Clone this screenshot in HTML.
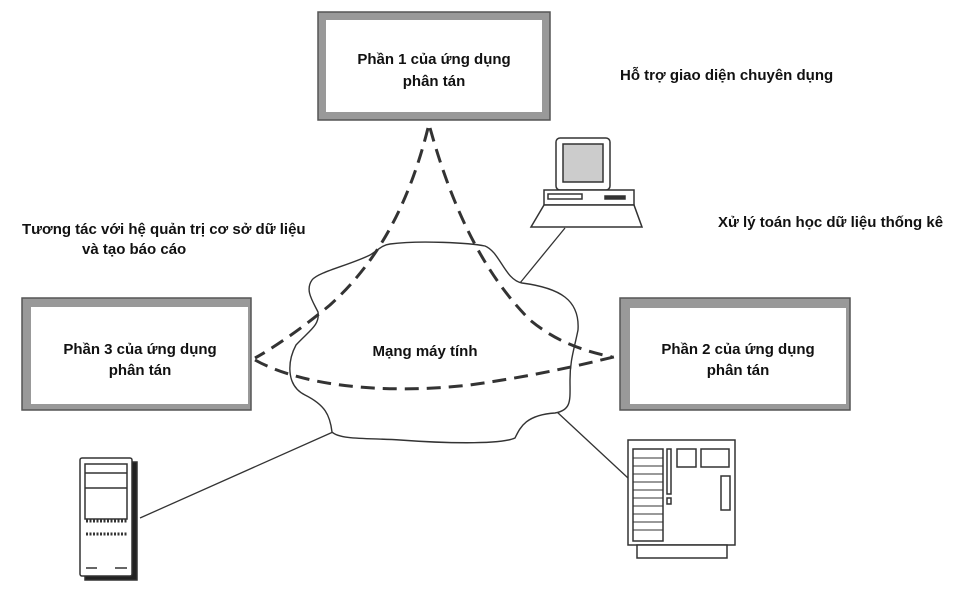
<!DOCTYPE html>
<html><head><meta charset="utf-8"><style>
body{margin:0;background:#fff;}
svg text{font-family:"Liberation Sans",sans-serif;font-weight:bold;font-size:15px;fill:#111;}
</style></head><body>
<svg width="967" height="600" viewBox="0 0 967 600" xmlns="http://www.w3.org/2000/svg">
<rect x="0" y="0" width="967" height="600" fill="#fff"/>
<g fill="#fff" stroke="#555" stroke-width="1.5">
<rect x="318" y="12" width="232" height="108" fill="#999"/>
<rect x="326" y="20" width="216" height="92" fill="#fff" stroke="none"/>
<rect x="22" y="298" width="229" height="112" fill="#999"/>
<rect x="31" y="307" width="217" height="97" fill="#fff" stroke="none"/>
<rect x="620" y="298" width="230" height="112" fill="#999"/>
<rect x="630" y="308" width="216" height="96" fill="#fff" stroke="none"/>
</g>
<text x="434" y="64" text-anchor="middle">Phần 1 của ứng dụng</text>
<text x="434" y="86" text-anchor="middle">phân tán</text>
<text x="140" y="354" text-anchor="middle">Phần 3 của ứng dụng</text>
<text x="140" y="375" text-anchor="middle">phân tán</text>
<text x="738" y="354" text-anchor="middle">Phần 2 của ứng dụng</text>
<text x="738" y="375" text-anchor="middle">phân tán</text>
<text x="620" y="80">Hỗ trợ giao diện chuyên dụng</text>
<text x="718" y="227">Xử lý toán học dữ liệu thống kê</text>
<text x="22" y="234">Tương tác với hệ quản trị cơ sở dữ liệu</text>
<text x="82" y="254">và tạo báo cáo</text>
<g stroke="#333" stroke-width="1.3" fill="none">
<line x1="565" y1="228" x2="520" y2="283"/>
<line x1="557" y1="412" x2="628" y2="478"/>
<line x1="140" y1="518" x2="333" y2="432"/>
</g>
<path d="M390,244 C420,240 470,243 485,246 C500,252 505,280 522,283 C560,288 580,300 578,330 C574,350 570,360 570,380 C570,400 572,410 555,413 C525,415 520,428 515,438 C500,445 440,443 400,440 C370,438 340,440 332,432 C330,415 325,405 305,395 C285,385 288,360 296,345 C310,330 320,325 318,312 C312,300 305,290 312,280 C318,272 350,265 370,255 C378,250 382,245 390,244 Z" fill="#fff" stroke="#333" stroke-width="1.4"/>
<text x="425" y="356" text-anchor="middle">Mạng máy tính</text>
<g stroke="#333" stroke-width="3" fill="none" stroke-dasharray="14,8">
<path d="M428,128 C410,200 380,260 330,305 C300,330 270,350 255,358"/>
<path d="M430,128 C450,200 480,270 530,320 C560,345 590,352 612,357"/>
<path d="M255,360 C300,385 380,395 470,385 C540,375 580,365 618,356"/>
</g>
<g stroke="#333" stroke-width="1.5" fill="#fff">
<rect x="556" y="138" width="54" height="52" rx="4"/>
<rect x="563" y="144" width="40" height="38" fill="#ccc"/>
<rect x="544" y="190" width="90" height="15"/>
<rect x="548" y="194" width="34" height="5" fill="#fff"/>
<rect x="605" y="196" width="20" height="3" fill="#333"/>
<path d="M544,205 L634,205 L642,227 L531,227 Z"/>
</g>
<g stroke="#333" stroke-width="1.5" fill="#fff">
<rect x="628" y="440" width="107" height="105"/>
<rect x="637" y="545" width="90" height="13"/>
<rect x="633" y="449" width="30" height="92"/>
<path d="M633,458H663M633,466H663M633,474H663M633,482H663M633,490H663M633,498H663M633,506H663M633,514H663M633,522H663M633,530H663" fill="none" stroke-width="1"/>
<rect x="667" y="449" width="4" height="45"/>
<rect x="667" y="498" width="4" height="6"/>
<rect x="677" y="449" width="19" height="18"/>
<rect x="701" y="449" width="28" height="18"/>
<rect x="721" y="476" width="9" height="34"/>
</g>
<g stroke="#333" stroke-width="1.5" fill="#fff">
<rect x="85" y="462" width="52" height="118" fill="#222"/>
<rect x="80" y="458" width="52" height="118" rx="2"/>
<rect x="85" y="464" width="42" height="55"/>
<line x1="85" y1="473" x2="127" y2="473"/>
<line x1="85" y1="488" x2="127" y2="488"/>
<g stroke-width="3" stroke-dasharray="2,1.5"><line x1="86" y1="521" x2="127" y2="521"/><line x1="86" y1="534" x2="127" y2="534"/></g>
<line x1="86" y1="568" x2="97" y2="568"/><line x1="115" y1="568" x2="127" y2="568"/>
</g>
</svg>
</body></html>
